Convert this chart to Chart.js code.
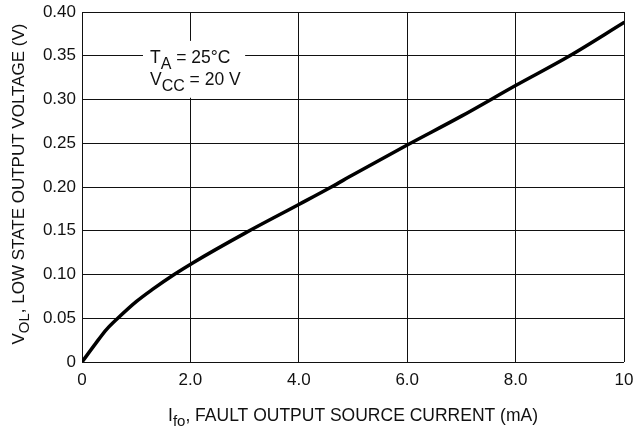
<!DOCTYPE html>
<html><head><meta charset="utf-8">
<script src="https://cdn.jsdelivr.net/npm/chart.js@4.4.1/dist/chart.umd.min.js"></script>
<style>html,body{margin:0;padding:0;background:#fff}canvas{display:block}</style>
</head><body>
<canvas id="c" width="634" height="433"></canvas>
<script>
const currentMA = [0, 0.25, 0.45, 0.66, 1.0, 1.3, 1.7, 2.05, 3.0, 4.0, 4.6, 5.0, 6.0, 7.0, 8.0, 9.0, 10.0];
const voltageV  = [0, 0.021, 0.037, 0.05, 0.069, 0.083, 0.10, 0.1135, 0.147, 0.18, 0.20, 0.214, 0.248, 0.281, 0.316, 0.35, 0.388];
const xTickLabels = ['0', '2.0', '4.0', '6.0', '8.0', '10'];
const yTickLabels = ['0', '0.05', '0.10', '0.15', '0.20', '0.25', '0.30', '0.35', '0.40'];
const annotationLines = [['T', 'A', ' = 25\u00B0C'], ['V', 'CC', ' = 20 V']];
const xTitleParts = ['I', 'fo', ', FAULT OUTPUT SOURCE CURRENT (mA)'];
const yTitleParts = ['V', 'OL', ', LOW STATE OUTPUT VOLTAGE (V)'];

const FONT = '"Liberation Sans", Arial, Helvetica, sans-serif';
const INK = '#111';

function partsWidth(ctx, parts, size, subSize) {
  ctx.font = size + 'px ' + FONT;
  let w = ctx.measureText(parts[0]).width + ctx.measureText(parts[2]).width;
  ctx.font = subSize + 'px ' + FONT;
  w += ctx.measureText(parts[1]).width;
  return w;
}
function drawParts(ctx, parts, x, y, size, subSize, subDy) {
  ctx.textAlign = 'left';
  ctx.textBaseline = 'alphabetic';
  ctx.font = size + 'px ' + FONT;
  ctx.fillText(parts[0], x, y);
  x += ctx.measureText(parts[0]).width;
  ctx.font = subSize + 'px ' + FONT;
  ctx.fillText(parts[1], x, y + subDy);
  x += ctx.measureText(parts[1]).width;
  ctx.font = size + 'px ' + FONT;
  ctx.fillText(parts[2], x, y);
}

const overlay = {
  id: 'overlay',
  beforeDatasetsDraw(chart) {
    const ctx = chart.ctx, xs = chart.scales.x, ys = chart.scales.y;
    const l = xs.getPixelForValue(1.125), r = xs.getPixelForValue(3.01);
    const t = ys.getPixelForValue(0.367), b = ys.getPixelForValue(0.302);
    ctx.save();
    ctx.fillStyle = '#fff';
    ctx.fillRect(l, t, r - l, b - t);
    ctx.fillStyle = INK;
    drawParts(ctx, annotationLines[0], l + 7, t + 22.5, 17.5, 16, 6);
    drawParts(ctx, annotationLines[1], l + 7, t + 44, 17.5, 16, 6);
    ctx.restore();
  },
  afterDraw(chart) {
    const ctx = chart.ctx, a = chart.chartArea;
    ctx.save();
    ctx.fillStyle = INK;
    const xw = partsWidth(ctx, xTitleParts, 17.5, 15);
    drawParts(ctx, xTitleParts, (a.left + a.right) / 2 - xw / 2, 421, 17.5, 15, 5);
    const yw = partsWidth(ctx, yTitleParts, 17, 15);
    ctx.translate(24, (a.top + a.bottom) / 2 - 3);
    ctx.rotate(-Math.PI / 2);
    drawParts(ctx, yTitleParts, -yw / 2, 0, 17, 15, 5);
    ctx.restore();
  }
};

new Chart(document.getElementById('c'), {
  type: 'line',
  data: {
    datasets: [{
      data: currentMA.map((x, i) => ({ x: x, y: voltageV[i] })),
      borderColor: '#000',
      borderWidth: 3.5,
      pointRadius: 0,
      fill: false,
      cubicInterpolationMode: 'monotone',
      borderCapStyle: 'round',
      borderJoinStyle: 'round'
    }]
  },
  options: {
    responsive: false,
    animation: false,
    events: [],
    layout: { padding: { left: 40, right: 10, top: 12, bottom: 0 } },
    plugins: { legend: { display: false }, tooltip: { enabled: false } },
    scales: {
      x: {
        type: 'linear', min: 0, max: 10,
        border: { display: false },
        grid: { color: INK, lineWidth: 1, drawTicks: false },
        ticks: {
          stepSize: 2, padding: 8, color: INK, maxRotation: 0,
          font: { family: FONT, size: 17 },
          callback: v => xTickLabels[Math.round(v / 2)]
        },
        afterFit(s) { s.height = 71; s.paddingLeft = 0; s.paddingRight = 0; }
      },
      y: {
        type: 'linear', min: 0, max: 0.4,
        border: { display: false },
        grid: { color: INK, lineWidth: 1, drawTicks: false },
        ticks: {
          stepSize: 0.05, padding: 6, color: INK,
          font: { family: FONT, size: 17 },
          callback: v => yTickLabels[Math.round(v / 0.05)]
        },
        afterFit(s) { s.width = 42; s.paddingTop = 0; s.paddingBottom = 0; }
      }
    }
  },
  plugins: [overlay]
});
</script>
</body></html>
